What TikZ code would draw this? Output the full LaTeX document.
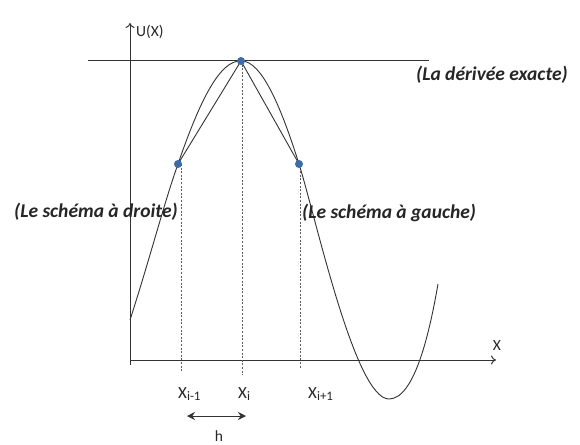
\documentclass[tikz,border=0pt]{standalone}
\usepackage{fontspec}
\setmainfont{Carlito}
\usetikzlibrary{arrows.meta}
\definecolor{dotblue}{HTML}{3C6BA8}
\definecolor{ink}{HTML}{333333}
\newcommand{\mysub}[1]{\raisebox{-0.35ex}{\fontsize{13}{15}\selectfont #1}}
\tikzset{
  axisline/.style={draw=ink, line width=1pt},
  curveline/.style={draw=ink, line width=0.9pt},
  guideline/.style={draw=ink!80, line width=0.8pt, dash pattern=on 2pt off 1.6pt},
  ptdot/.style={circle, fill=dotblue, inner sep=0pt, minimum size=8pt},
  caption/.style={font=\fontsize{19.5}{22}\selectfont\bfseries\itshape, text=black!85, inner sep=0pt},
  ticklabel/.style={font=\fontsize{17}{19}\selectfont, text=black!85, inner sep=0pt},
  smalllabel/.style={font=\fontsize{15.5}{18}\selectfont, text=black!85, inner sep=0pt},
}
\begin{document}
\begin{tikzpicture}[x=1pt,y=-1pt]
\useasboundingbox[fill=white] (0,0) rectangle (580,444);
% coordinates
\coordinate (Ybot) at (130,365);
\coordinate (Ytop) at (130,23);
\coordinate (Xbeg) at (130,360);
\coordinate (Xend) at (496,360);
\coordinate (Hl) at (88,60);
\coordinate (Hr) at (429,60);
\coordinate (A) at (178,164);
\coordinate (P) at (241,61);
\coordinate (B) at (299,164);
\coordinate (Start) at (130,320);
\coordinate (Min) at (389,399);
\coordinate (End) at (438,284);
\coordinate (dA) at (181,164);
\coordinate (dAb) at (181,371);
\coordinate (dP) at (242,61);
\coordinate (dPb) at (242,375);
\coordinate (dB) at (300,164);
\coordinate (dBb) at (300,369);
% axes
\draw[axisline, -{To[length=5pt,width=9pt]}] (Ybot) -- (Ytop);
\draw[axisline, -{To[length=5pt,width=9pt]}] (Xbeg) -- (Xend);
\draw[axisline] (Hl) -- (Hr);
% guides
\draw[guideline] (dA) -- (dAb);
\draw[guideline] (dP) -- (dPb);
\draw[guideline] (dB) -- (dBb);
% curve
\draw[curveline] (Start) .. controls (150,258) and (165,200) .. (A)
  .. controls (200,100) and (220,60) .. (P)
  .. controls (262,60) and (282,110) .. (B)
  .. controls (316,218) and (355,399) .. (Min)
  .. controls (415,399) and (430,330) .. (End);
% chords
\draw[curveline] (A) -- (P) -- (B);
% dots
\node[ptdot] (nA) at (A) {};
\node[ptdot] (nP) at (P) {};
\node[ptdot] (nB) at (B) {};
% labels
\node[smalllabel, anchor=west] (ulab) at (136,32) {U(X)};
\node[smalllabel, anchor=center] (xlab) at (497,346) {X};
\node[caption, anchor=west] (exacte) at (416,75) {(La dérivée exacte)};
\node[caption, anchor=west] (droite) at (14,212) {(Le schéma à droite)};
\node[caption, anchor=west] (gauche) at (302,213) {(Le schéma à gauche)};
\node[ticklabel, anchor=base west] (xim) at (178,398) {X\mysub{i-1}};
\node[ticklabel, anchor=base west] (xi) at (238,398) {X\mysub{i}};
\node[ticklabel, anchor=base west] (xip) at (308,398) {X\mysub{i+1}};
\coordinate (hl) at (187,416);
\coordinate (hr) at (246,416);
\draw[axisline, {Stealth[length=8pt,width=8pt]}-{Stealth[length=8pt,width=8pt]}] (hl) -- (hr);
\node[smalllabel, anchor=base] (hlab) at (219,441) {h};
\end{tikzpicture}
\end{document}
